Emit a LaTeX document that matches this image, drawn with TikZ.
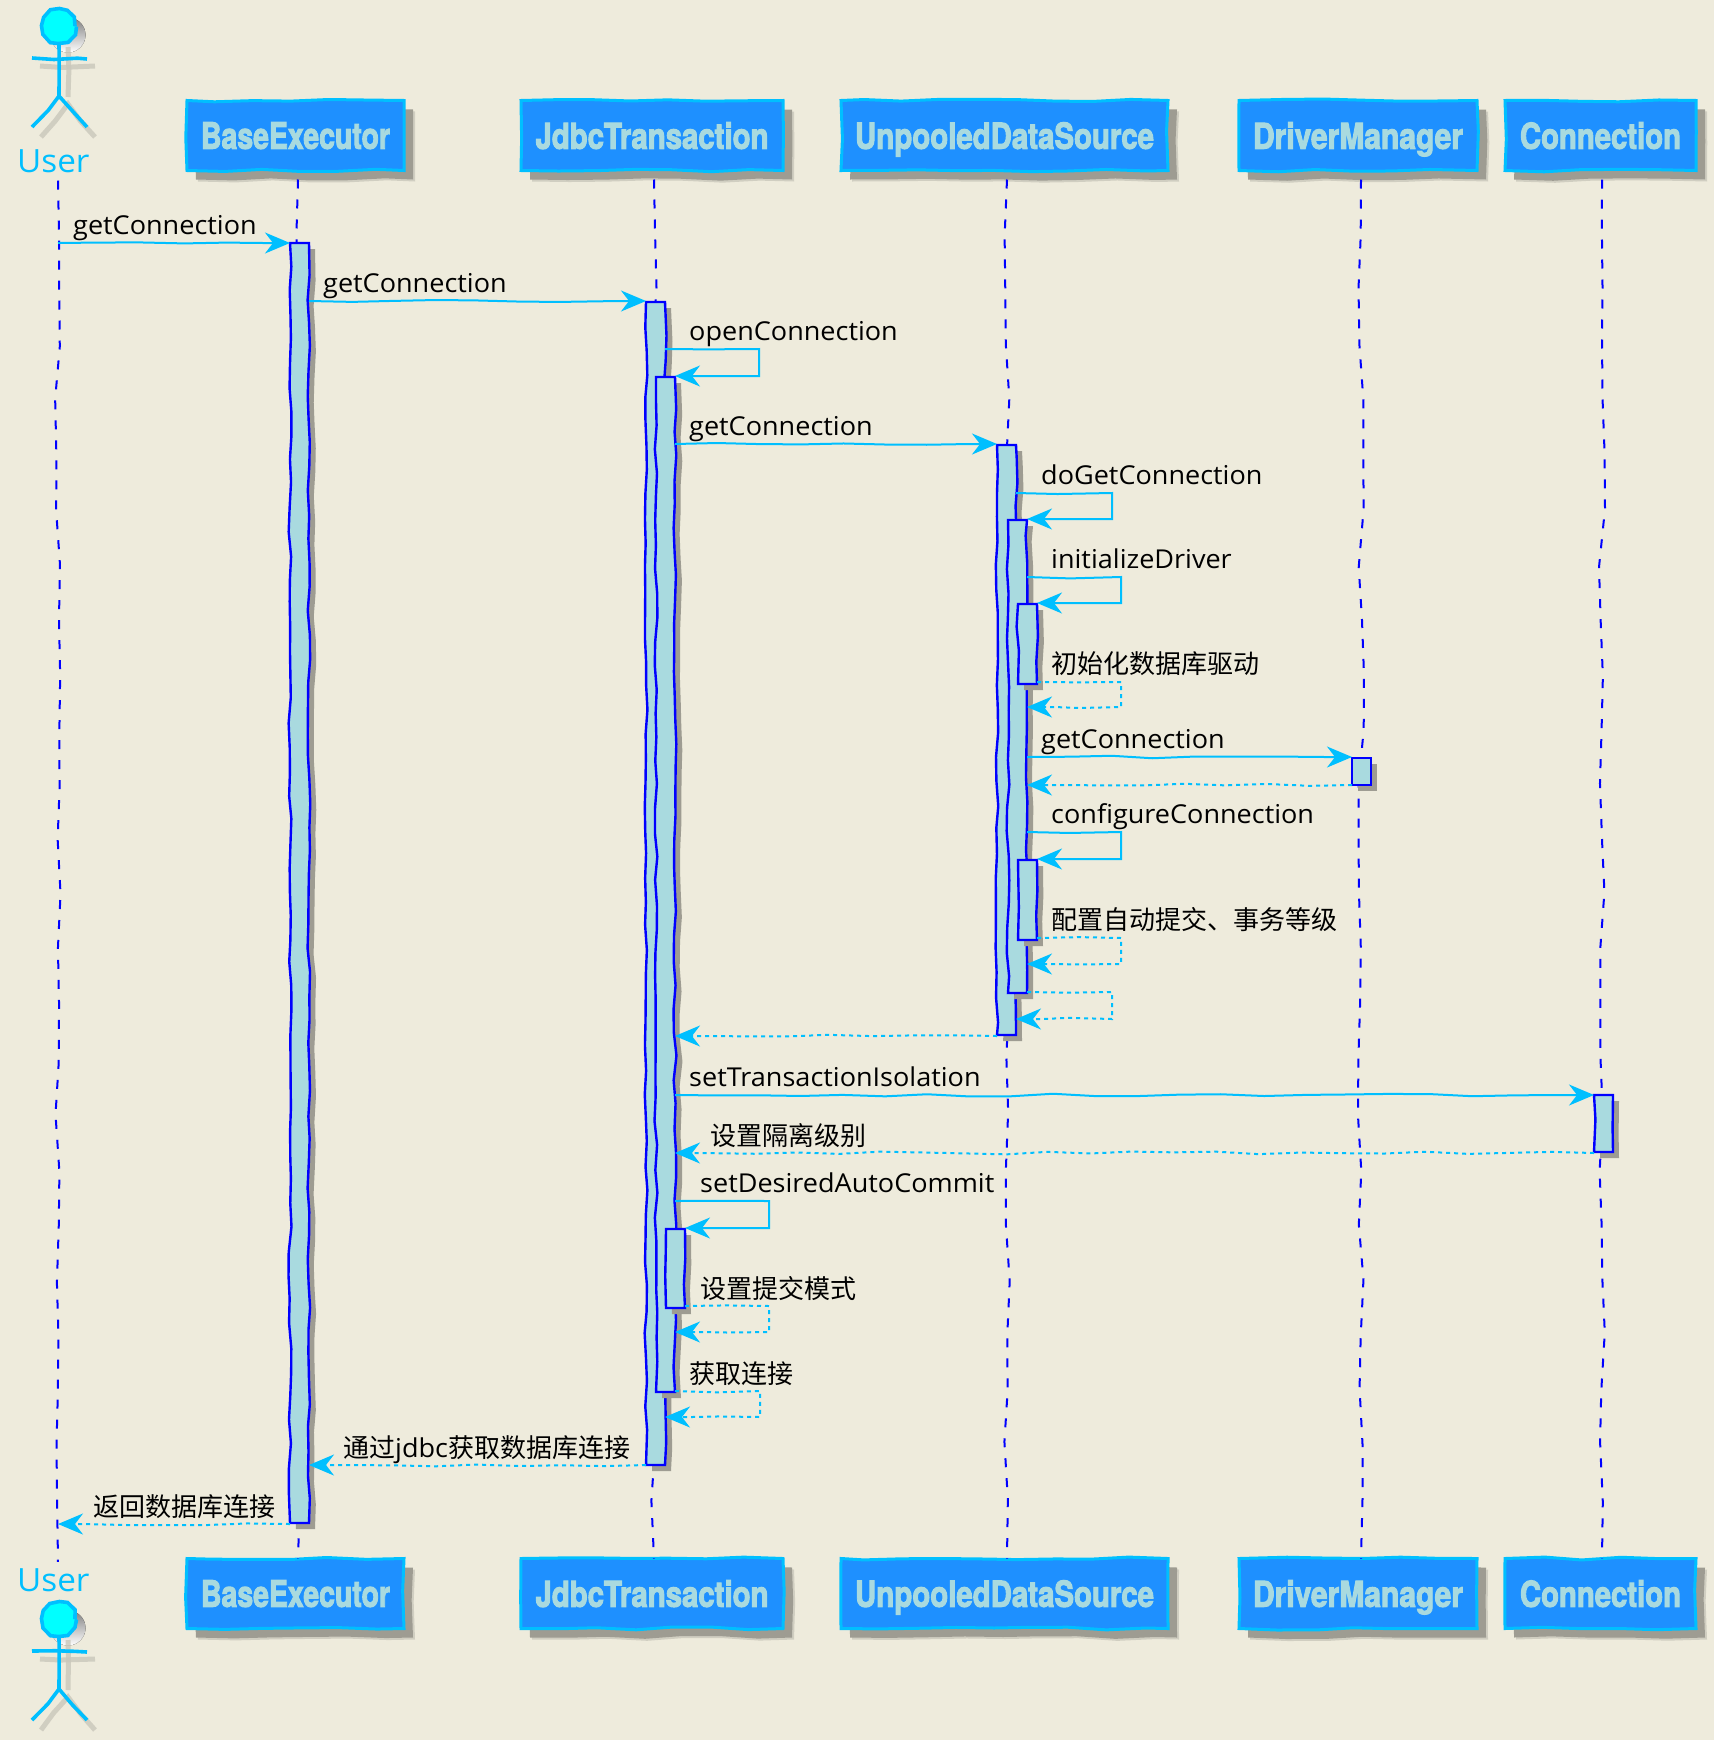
\documentclass[tikz,border=0pt]{standalone}
\usepackage{fontspec}
\setmainfont[FakeStretch=1.04]{Open Sans}
\newfontfamily\cjkf{Noto Sans CJK SC}
\newfontfamily\boxf[FakeBold=3]{TeX Gyre Heros}
\usetikzlibrary{arrows.meta,decorations.pathmorphing,shadows}
\definecolor{bgc}{HTML}{EEEBDC}
\definecolor{dodger}{HTML}{1E90FF}
\definecolor{skyb}{HTML}{00BFFF}
\definecolor{cyanhead}{HTML}{00FFFF}
\definecolor{paleb}{HTML}{A9DADF}
\definecolor{shade}{HTML}{9E9C92}
\definecolor{shadel}{HTML}{C9C7BB}
\tikzset{
  x=1pt,y=-1pt,
  wob/.style={decorate,decoration={random steps,segment length=#1,amplitude=1.5pt}},
  lifeline/.style={draw=blue,line width=2pt,dash pattern=on 9pt off 11pt,
    decorate,decoration={random steps,segment length=55pt,amplitude=3pt}},
  partbox/.style={draw=skyb,fill=dodger,line width=3pt,inner sep=0pt,outer sep=0pt,anchor=north west,
    minimum height=70pt,text=paleb,wob=38pt,
    general shadow={shadow xshift=11pt,shadow yshift=-11pt,fill=shadel,opacity=.8},
    general shadow={shadow xshift=9pt,shadow yshift=-9pt,fill=shade}},
  actbar/.style={draw=blue,fill=paleb,line width=2.4pt,inner sep=0pt,outer sep=0pt,anchor=north west,
    minimum width=19pt,wob=24pt,
    general shadow={shadow xshift=6pt,shadow yshift=-6pt,fill=shade}},
  msgbase/.style={draw=skyb,line width=2pt,
    -{Stealth[length=25pt,width=21pt,inset=8pt]},
    decorate,decoration={random steps,segment length=42pt,amplitude=1.4pt,post length=27pt}},
  msgsolid/.style={msgbase},
  msgdash/.style={msgbase,dash pattern=on 4pt off 4pt},
  msgtxt/.style={anchor=base west,inner sep=0pt,text=black,font=\fontsize{26}{30}\selectfont},
  usertxt/.style={anchor=base west,inner sep=0pt,text=skyb,font=\fontsize{32}{36}\selectfont},
  figline/.style={draw=skyb,line width=3.6pt,wob=22pt},
  figshade/.style={draw=shadel,line width=5pt,wob=22pt,opacity=.8},
}
\newcommand{\boxlabel}[2]{\raisebox{-13.25pt}[13.25pt][13.25pt]{\resizebox{#1pt}{26.5pt}{\boxf\bfseries #2}}}
\newcommand{\msgline}[4]{\draw[#4] (#1 |- 0,#3) -- (#2 |- 0,#3);}
\newcommand{\selfmsg}[6]{\draw[#6] (#1 |- 0,#3) -- (#5,#3) -- (#5,#4) -- (#2 |- 0,#4);}
\newcommand{\actorfig}[2]{%
  \begin{scope}[shift={(#1,#2)}]
    \fill[shade] (9,9) circle (17.5pt);
    \path[figshade] (9,21) -- (9,71);
    \path[figshade] (-19,40) -- (36,40);
    \path[figshade] (-18,111) -- (9,78) -- (36,111);
    \node[circle,draw=skyb,fill=cyanhead,line width=3.6pt,minimum size=32pt,inner sep=0pt,outer sep=0pt,
      decorate,decoration={random steps,segment length=9pt,amplitude=.7pt}] (#1head) at (0,0) {};
    \path[figline] (#1head.south) -- (0,70);
    \path[figline] (-27,32) -- (28,33);
    \path[figline] (-27,101) -- (0,70) -- (28,101);
  \end{scope}}
\begin{document}
\begin{tikzpicture}
\pgfmathsetseed{4217}
\useasboundingbox (0,0) rectangle (1714,1740);
\fill[bgc] (0,0) rectangle (1714,1740);
% actors
\actorfig{59}{26}
\actorfig{59}{1619}
\node[usertxt] (uTop) at (17,172) {User};
\node[usertxt] (uBot) at (17,1591) {User};
% participant boxes
\node[partbox,minimum width=217pt] (tB) at (187,100.5) {\boxlabel{189}{BaseExecutor}};
\node[partbox,minimum width=262pt] (tJ) at (521,100.5) {\boxlabel{233}{JdbcTransaction}};
\node[partbox,minimum width=327pt] (tU) at (841,100.5) {\boxlabel{299}{UnpooledDataSource}};
\node[partbox,minimum width=238pt] (tD) at (1239,100.5) {\boxlabel{210}{DriverManager}};
\node[partbox,minimum width=191pt] (tC) at (1505,100.5) {\boxlabel{161}{Connection}};
\node[partbox,minimum width=217pt] (bB) at (187,1558.5) {\boxlabel{189}{BaseExecutor}};
\node[partbox,minimum width=262pt] (bJ) at (521,1558.5) {\boxlabel{233}{JdbcTransaction}};
\node[partbox,minimum width=327pt] (bU) at (841,1558.5) {\boxlabel{299}{UnpooledDataSource}};
\node[partbox,minimum width=238pt] (bD) at (1239,1558.5) {\boxlabel{210}{DriverManager}};
\node[partbox,minimum width=191pt] (bC) at (1505,1558.5) {\boxlabel{161}{Connection}};
% lifelines
\coordinate (xU) at (58,0);\coordinate (xB) at (298,0);\coordinate (xJ) at (654,0);
\coordinate (xS) at (1007,0);\coordinate (xD) at (1361,0);\coordinate (xC) at (1602,0);
\draw[lifeline] (uTop.south -| xU) ++(0,8) -- ([yshift=6pt]uBot.north -| xU);
\draw[lifeline] (tB.south -| xB) ++(0,9) -- (bB.north -| xB);
\draw[lifeline] (tJ.south -| xJ) ++(0,9) -- (bJ.north -| xJ);
\draw[lifeline] (tU.south -| xS) ++(0,9) -- (bU.north -| xS);
\draw[lifeline] (tD.south -| xD) ++(0,9) -- (bD.north -| xD);
\draw[lifeline] (tC.south -| xC) ++(0,9) -- (bC.north -| xC);
% activations
\node[actbar,minimum height=1280pt] (aB) at (290,243) {};
\node[actbar,minimum height=1163pt] (aJ1) at (646,302) {};
\node[actbar,minimum height=1015pt] (aJ2) at (656,377) {};
\node[actbar,minimum height=79pt] (aJ3) at (666,1229) {};
\node[actbar,minimum height=590pt] (aU1) at (997,445) {};
\node[actbar,minimum height=473pt] (aU2) at (1008,520) {};
\node[actbar,minimum height=80pt] (aU3) at (1018,604) {};
\node[actbar,minimum height=80pt] (aU4) at (1018,860) {};
\node[actbar,minimum height=27pt] (aD) at (1352,758) {};
\node[actbar,minimum height=57pt] (aC) at (1594,1095) {};
% messages
\msgline{xU}{aB.west}{243}{msgsolid}
\msgline{aB.east}{aJ1.west}{301}{msgsolid}
\selfmsg{aJ1.east}{aJ2.east}{349}{376}{759}{msgsolid}
\msgline{aJ2.east}{aU1.west}{444}{msgsolid}
\selfmsg{aU1.east}{aU2.east}{493}{519}{1112}{msgsolid}
\selfmsg{aU2.east}{aU3.east}{577}{603}{1121}{msgsolid}
\selfmsg{aU3.east}{aU2.east}{682}{707}{1121}{msgdash}
\msgline{aU2.east}{aD.west}{757}{msgsolid}
\msgline{aD.west}{aU2.east}{785}{msgdash}
\selfmsg{aU2.east}{aU4.east}{832}{859}{1121}{msgsolid}
\selfmsg{aU4.east}{aU2.east}{938}{964}{1121}{msgdash}
\selfmsg{aU2.east}{aU1.east}{992}{1019}{1112}{msgdash}
\msgline{aU1.west}{aJ2.east}{1036}{msgdash}
\msgline{aJ2.east}{aC.west}{1095}{msgsolid}
\msgline{aC.west}{aJ2.east}{1153}{msgdash}
\selfmsg{aJ2.east}{aJ3.east}{1201}{1228}{769}{msgsolid}
\selfmsg{aJ3.east}{aJ2.east}{1306}{1332}{769}{msgdash}
\selfmsg{aJ2.east}{aJ1.east}{1391}{1417}{760}{msgdash}
\msgline{aJ1.west}{aB.east}{1465}{msgdash}
\msgline{aB.west}{xU}{1524}{msgdash}
% labels
\node[msgtxt] (m1) at (73,234) {getConnection};
\node[msgtxt] (m2) at (323,292) {getConnection};
\node[msgtxt] (m3) at (689,340) {openConnection};
\node[msgtxt] (m4) at (689,435) {getConnection};
\node[msgtxt] (m5) at (1041,484) {doGetConnection};
\node[msgtxt] (m6) at (1051,568) {initializeDriver};
\node[msgtxt] (m7) at (1051,673) {\cjkf 初始化数据库驱动};
\node[msgtxt] (m8) at (1041,748) {getConnection};
\node[msgtxt] (m9) at (1051,823) {configureConnection};
\node[msgtxt] (m10) at (1051,929) {\cjkf 配置自动提交、事务等级};
\node[msgtxt] (m11) at (689,1086) {setTransactionIsolation};
\node[msgtxt] (m12) at (710,1145) {\cjkf 设置隔离级别};
\node[msgtxt] (m13) at (700,1192) {setDesiredAutoCommit};
\node[msgtxt] (m14) at (700,1298) {\cjkf 设置提交模式};
\node[msgtxt] (m15) at (689,1383) {\cjkf 获取连接};
\node[msgtxt] (m16) at (343,1457) {{\cjkf 通过}jdbc{\cjkf 获取数据库连接}};
\node[msgtxt] (m17) at (93,1516) {\cjkf 返回数据库连接};
\end{tikzpicture}
\end{document}
